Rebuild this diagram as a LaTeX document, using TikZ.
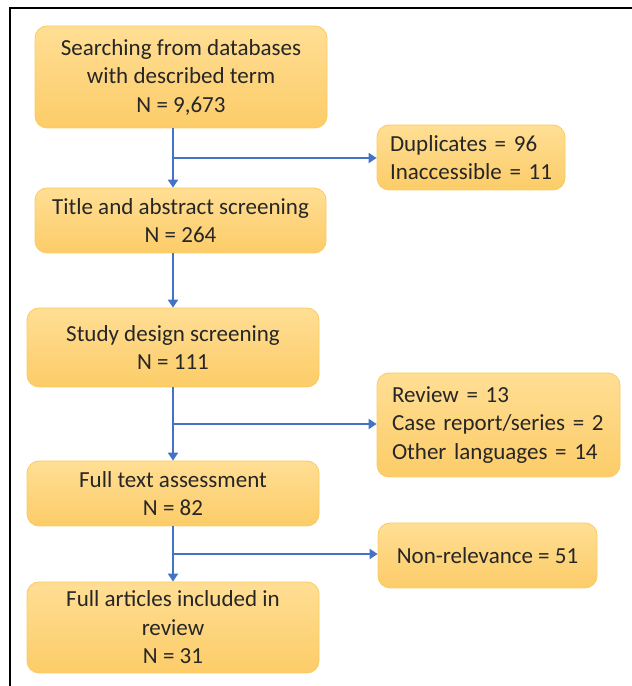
\documentclass[tikz,border=0pt]{standalone}
\usepackage{fontspec}
\setmainfont{Carlito}
\usetikzlibrary{arrows.meta,calc}
\definecolor{BoxTop}{RGB}{255,222,148}
\definecolor{BoxBot}{RGB}{252,204,104}
\definecolor{BoxEdge}{RGB}{250,203,98}
\definecolor{FlowClr}{RGB}{68,114,196}
\definecolor{TextClr}{RGB}{38,38,38}

\begin{document}
\begin{tikzpicture}[x=1pt,y=1pt,
  stagebox/.style={draw=BoxEdge,line width=0.8pt,top color=BoxTop,bottom color=BoxBot,
    rounded corners=12pt,inner sep=0pt,align=center,text=TextClr,
    font=\fontsize{23}{28.5}\selectfont},
  sidebox/.style={stagebox,align=left},
  flow/.style={draw=FlowClr,line width=2.8pt,-{Triangle[width=10pt,length=8pt]}},
  branch/.style={flow,line width=2.2pt}]

\useasboundingbox (0,0) rectangle (632,686);
\draw[line width=2.5pt] (10,0) -- (10,678) -- (632,678);

\node[stagebox,minimum width=292pt,minimum height=102pt] (S1) at (181,609)
  {Searching from databases\\with described term\\N = 9,673};
\node[stagebox,minimum width=291pt,minimum height=65pt] (S2) at (180.5,465.5)
  {Title and abstract screening\\N = 264};
\node[stagebox,minimum width=292pt,minimum height=79pt] (S3) at (173,338.5)
  {Study design screening\\N = 111};
\node[stagebox,minimum width=292pt,minimum height=65pt] (S4) at (173,192.5)
  {Full text assessment\\N = 82};
\node[stagebox,minimum width=292pt,minimum height=91pt] (S5) at (173,58.5)
  {Full articles included in\\review\\N = 31};

\node[sidebox,inner xsep=13pt,text width=162pt,minimum height=65pt] (D1) at (471,528.5)
  {Duplicates = 96\\Inaccessible = 11};
\node[sidebox,inner xsep=15pt,text width=213pt,minimum height=104pt] (D2) at (498.5,261)
  {Review = 13\\Case report/series = 2\\Other languages = 14};
\node[stagebox,minimum width=219pt,minimum height=65pt] (D3) at (487.5,130.5)
  {Non-relevance = 51};

\draw[flow] (S1.south -| S3) -- (S2.north -| S3);
\draw[flow] (S2.south -| S3) -- (S3.north);
\draw[flow] (S3.south) -- (S4.north);
\draw[flow] (S4.south) -- (S5.north);

\coordinate (B1) at ($(S1.south -| S3)!0.5!(S2.north -| S3)$);
\coordinate (B2) at ($(S3.south)!0.5!(S4.north)$);
\coordinate (B3) at ($(S4.south)!0.5!(S5.north)$);
\draw[branch] (B1) -- (B1 -| D1.west);
\draw[branch] (B2) -- (B2 -| D2.west);
\draw[branch] (B3) -- (B3 -| D3.west);

\end{tikzpicture}
\end{document}
